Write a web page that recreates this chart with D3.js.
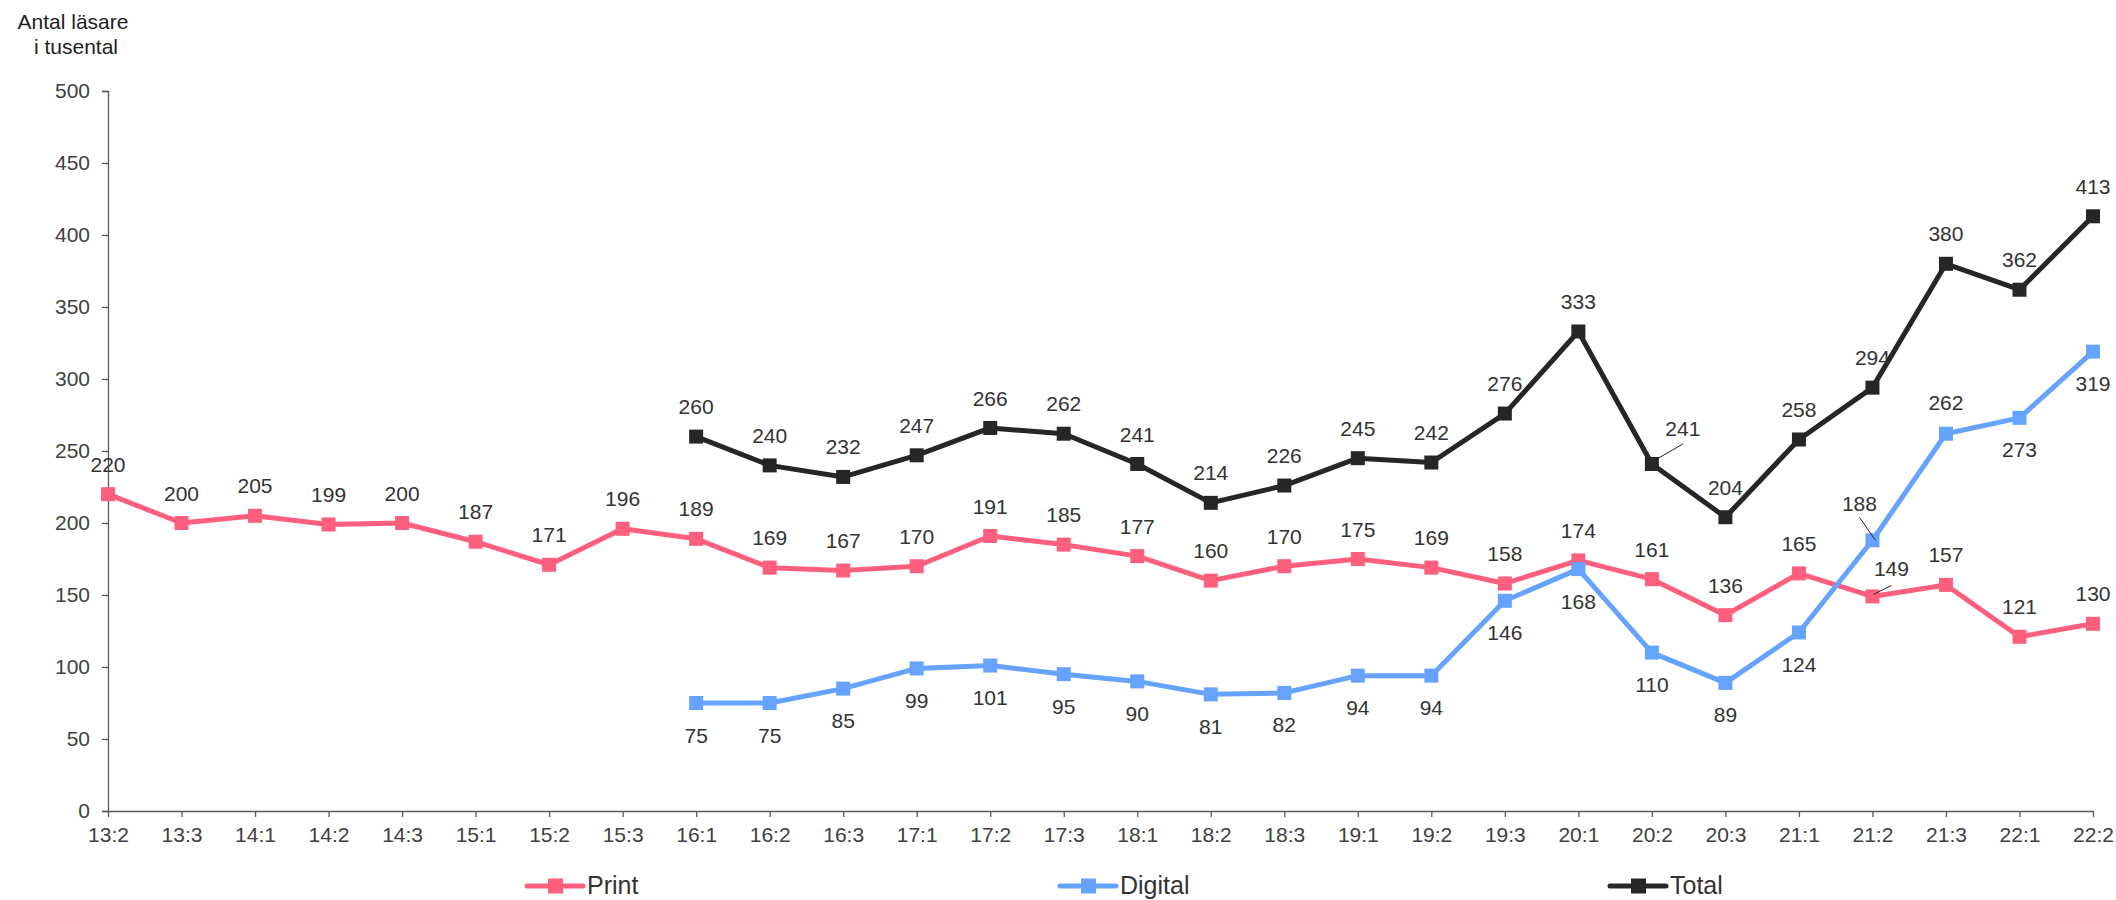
<!DOCTYPE html>
<html>
<head>
<meta charset="utf-8">
<script src="https://cdn.jsdelivr.net/npm/d3@7"></script>
<style>
  html, body { margin: 0; padding: 0; background: #fff; }
  svg { display: block; font-family: "Liberation Sans", Arial, sans-serif; }
</style>
</head>
<body>
<svg id="chart" width="2116" height="900"></svg>
<script>
const categories = ["13:2","13:3","14:1","14:2","14:3","15:1","15:2","15:3","16:1","16:2","16:3","17:1","17:2","17:3","18:1","18:2","18:3","19:1","19:2","19:3","20:1","20:2","20:3","21:1","21:2","21:3","22:1","22:2"];
const printValues = [220,200,205,199,200,187,171,196,189,169,167,170,191,185,177,160,170,175,169,158,174,161,136,165,149,157,121,130];
const digitalCategories = categories.slice(8);
const digitalValues = [75,75,85,99,101,95,90,81,82,94,94,146,168,110,89,124,188,262,273,319];
const totalCategories = categories.slice(8);
const totalValues = [260,240,232,247,266,262,241,214,226,245,242,276,333,241,204,258,294,380,362,413];
const yTicks = [0,50,100,150,200,250,300,350,400,450,500];
const seriesNames = ["Print","Digital","Total"];
const seriesColors = ["#ff5f7e","#66a3ff","#262626"];
const yTitle = ["Antal läsare","i tusental"];

const svg = d3.select("#chart");
const x = d3.scalePoint().domain(categories).range([108, 2093]);
const y = d3.scaleLinear().domain([0, 500]).range([811, 91]);

const axisColor = "#595959";
const textColor = "#404040";

// Y axis
const yAxis = svg.append("g").attr("transform", "translate(108,0)")
  .call(d3.axisLeft(y).tickValues(yTicks).tickSize(6).tickPadding(12));
yAxis.select(".domain").attr("stroke", axisColor).attr("stroke-width", 1.3);
yAxis.selectAll(".tick line").attr("stroke", axisColor).attr("stroke-width", 1.3);
yAxis.selectAll(".tick text").attr("fill", textColor).attr("font-size", 21)
  .attr("font-family", "Liberation Sans, Arial, sans-serif");

// X axis
const xAxis = svg.append("g").attr("transform", "translate(0,811)")
  .call(d3.axisBottom(x).tickSize(6).tickPadding(10).tickSizeOuter(0));
xAxis.select(".domain").attr("stroke", axisColor).attr("stroke-width", 1.3);
xAxis.selectAll(".tick line").attr("stroke", axisColor).attr("stroke-width", 1.3);
xAxis.selectAll(".tick text").attr("fill", textColor).attr("font-size", 21)
  .attr("font-family", "Liberation Sans, Arial, sans-serif");

// Y title
svg.append("text").attr("x", 73).attr("y", 29).attr("text-anchor", "middle")
  .attr("font-size", 21).attr("fill", "#222").text(yTitle[0]);
svg.append("text").attr("x", 76).attr("y", 54).attr("text-anchor", "middle")
  .attr("font-size", 21).attr("fill", "#222").text(yTitle[1]);

const series = [
  { name: seriesNames[0], color: seriesColors[0], cats: categories, vals: printValues, pos: "above" },
  { name: seriesNames[1], color: seriesColors[1], cats: digitalCategories, vals: digitalValues, pos: "below" },
  { name: seriesNames[2], color: seriesColors[2], cats: totalCategories, vals: totalValues, pos: "above" }
];

// label overrides: [series, category] -> {pos, dx, dy, leader}
const overrides = {
  "Digital|21:3": { dx: 0, dy: -31 },
  "Digital|21:2": { dx: -13, dy: -37, leader: [3, 0, -13, -23] },
  "Print|21:2": { dx: 19, dy: -28, leader: [1, -2, 19, -11] },
  "Total|20:2": { dx: 31, dy: -36, leader: [0, -2, 31, -20] }
};

const line = d3.line().x(d => x(d.c)).y(d => y(d.v));

series.forEach(s => {
  const data = s.cats.map((c, i) => ({ c, v: s.vals[i] }));
  const g = svg.append("g");
  g.append("path").datum(data).attr("d", line)
    .attr("fill", "none").attr("stroke", s.color).attr("stroke-width", 5)
    .attr("stroke-linejoin", "round");
  g.selectAll("rect").data(data).join("rect")
    .attr("x", d => x(d.c) - 7).attr("y", d => y(d.v) - 7)
    .attr("width", 14).attr("height", 14).attr("fill", s.color);
});

// labels drawn after all lines
series.forEach(s => {
  const data = s.cats.map((c, i) => ({ c, v: s.vals[i] }));
  data.forEach(d => {
    const key = s.name + "|" + d.c;
    const o = overrides[key];
    const px = x(d.c), py = y(d.v);
    let dx = 0, dy = s.pos === "above" ? -30 : 32;
    if (o) { dx = o.dx; dy = o.dy; }
    if (o && o.leader) {
      svg.append("line")
        .attr("x1", px + o.leader[0]).attr("y1", py + o.leader[1])
        .attr("x2", px + o.leader[2]).attr("y2", py + o.leader[3])
        .attr("stroke", "#222").attr("stroke-width", 1);
    }
    svg.append("text").attr("x", px + dx).attr("y", py + dy).attr("dy", "0.36em")
      .attr("text-anchor", "middle").attr("font-size", 21).attr("fill", "#333")
      .text(d.v);
  });
});

// Legend
const legendX = [527, 1060, 1610];
series.forEach((s, i) => {
  const lx = legendX[i], ly = 886;
  svg.append("line").attr("x1", lx).attr("x2", lx + 56).attr("y1", ly).attr("y2", ly)
    .attr("stroke", s.color).attr("stroke-width", 5).attr("stroke-linecap", "round");
  svg.append("rect").attr("x", lx + 21).attr("y", ly - 7.5).attr("width", 15).attr("height", 15)
    .attr("fill", s.color);
  svg.append("text").attr("x", lx + 60).attr("y", 894).attr("font-size", 25)
    .attr("fill", "#333").text(s.name);
});
</script>
</body>
</html>
